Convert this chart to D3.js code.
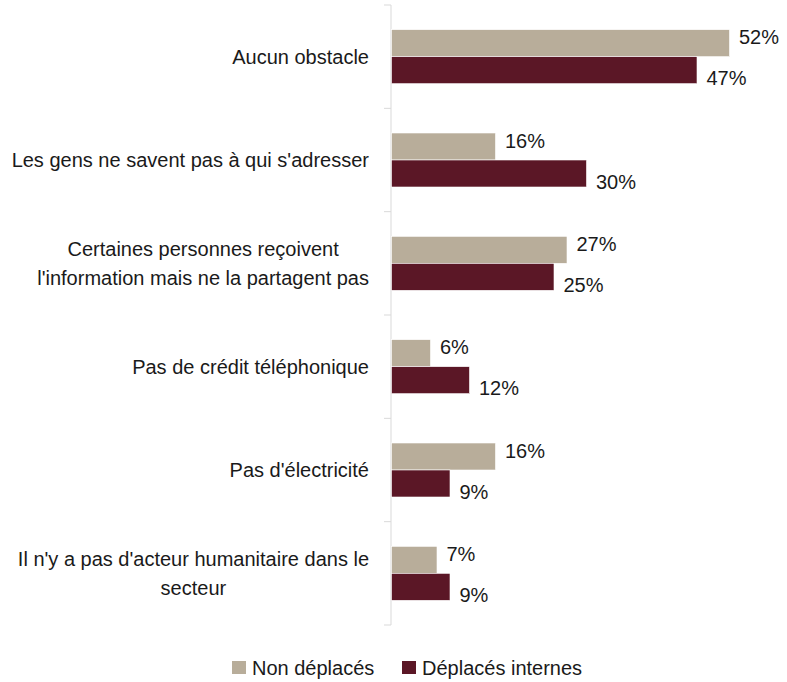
<!DOCTYPE html>
<html>
<head>
<meta charset="utf-8">
<script src="https://cdn.jsdelivr.net/npm/d3@7"></script>
<style>
  html, body { margin: 0; padding: 0; background: #fff; }
  svg text { font-family: "Liberation Sans", Arial, sans-serif; fill: #1a1a1a; }
</style>
</head>
<body>
<svg id="chart" width="787" height="682"></svg>
<script>
// Obstacles à l'accès à l'information, par statut de déplacement (%)
const categories = [
  "Aucun obstacle",
  "Les gens ne savent pas à qui s'adresser",
  "Certaines personnes reçoivent l'information mais ne la partagent pas",
  "Pas de crédit téléphonique",
  "Pas d'électricité",
  "Il n'y a pas d'acteur humanitaire dans le secteur"
];
const seriesNames = ["Non déplacés", "Déplacés internes"];
const nonDeplaces = [52, 16, 27, 6, 16, 7];
const deplacesInternes = [47, 30, 25, 12, 9, 9];
const seriesColors = ["#b8ad9a", "#5b1726"];

const svg = d3.select("#chart");
const axisX = 391;
const fontSize = 20;

const x = d3.scaleLinear().domain([0, 60]).range([axisX, axisX + 390]);
const y = d3.scaleBand().domain(categories).range([5, 625]).paddingInner(0).paddingOuter(0);
const groupH = 54;
const ySub = d3.scaleBand().domain(seriesNames).range([0, groupH]);

const rows = categories.map((c, i) => ({
  cat: c,
  values: [nonDeplaces[i], deplacesInternes[i]]
}));

// axis line and ticks at category boundaries
const axis = svg.append("g");
axis.append("line")
  .attr("x1", axisX).attr("x2", axisX)
  .attr("y1", y.range()[0]).attr("y2", y.range()[1])
  .attr("stroke", "#d9d9d9").attr("stroke-width", 1);
const boundaries = d3.range(categories.length + 1).map(i => y.range()[0] + i * y.step());
axis.selectAll("line.tick").data(boundaries).join("line")
  .attr("class", "tick")
  .attr("x1", axisX - 7).attr("x2", axisX)
  .attr("y1", d => d).attr("y2", d => d)
  .attr("stroke", "#d9d9d9").attr("stroke-width", 1);

// bars
const groups = svg.append("g").selectAll("g").data(rows).join("g")
  .attr("transform", d => `translate(0,${y(d.cat) + (y.bandwidth() - groupH) / 2})`);

groups.selectAll("rect").data(d => d.values.map((v, j) => ({ v, s: seriesNames[j], j })))
  .join("rect")
  .attr("x", x(0) + 0.5)
  .attr("y", d => ySub(d.s))
  .attr("width", d => x(d.v) - x(0))
  .attr("height", ySub.bandwidth())
  .attr("fill", d => seriesColors[d.j])
  .attr("stroke", "#ffffff")
  .attr("stroke-width", 0.6);

// value labels
groups.selectAll("text.val").data(d => d.values.map((v, j) => ({ v, s: seriesNames[j], j })))
  .join("text")
  .attr("class", "val")
  .attr("x", d => x(d.v) + 10)
  .attr("y", d => ySub(d.s) + ySub.bandwidth() / 2 + (d.j === 0 ? -6 : 8))
  .attr("dy", "0.35em")
  .attr("font-size", fontSize)
  .text(d => d.v + "%");

// category labels, wrapped and centred on their longest line
const labelRight = 369;
const maxWidth = 362;
const lineGap = 29;
const labels = svg.append("g");
categories.forEach(c => {
  const t = labels.append("text").attr("font-size", fontSize);
  const words = c.split(" ");
  const lines = [];
  let cur = [];
  const probe = t.append("tspan");
  words.forEach(w => {
    const test = cur.concat(w).join(" ");
    probe.text(test);
    if (probe.node().getComputedTextLength() > maxWidth && cur.length) {
      lines.push(cur.join(" "));
      cur = [w];
    } else {
      cur.push(w);
    }
  });
  lines.push(cur.join(" "));
  const widths = lines.map(l => { probe.text(l); return probe.node().getComputedTextLength(); });
  probe.remove();
  const maxW = d3.max(widths);
  const cy = y(c) + y.bandwidth() / 2;
  const top = cy - (lines.length - 1) * lineGap / 2;
  if (lines.length === 1) {
    t.attr("text-anchor", "end");
    t.append("tspan").attr("x", labelRight).attr("y", cy).attr("dy", "0.35em").text(lines[0]);
  } else {
    t.attr("text-anchor", "middle");
    lines.forEach((l, k) => {
      t.append("tspan").attr("x", labelRight - maxW / 2).attr("y", top + k * lineGap)
        .attr("dy", "0.35em").text(l);
    });
  }
});

// legend
const legend = svg.append("g").attr("transform", "translate(232,661)");
const legendX = [0, 170];
seriesNames.forEach((s, i) => {
  const g = legend.append("g").attr("transform", `translate(${legendX[i]},0)`);
  g.append("rect").attr("width", 14).attr("height", 13).attr("fill", seriesColors[i]);
  g.append("text").attr("x", 20).attr("y", 6.5).attr("dy", "0.35em")
    .attr("font-size", fontSize).text(s);
});
</script>
</body>
</html>
